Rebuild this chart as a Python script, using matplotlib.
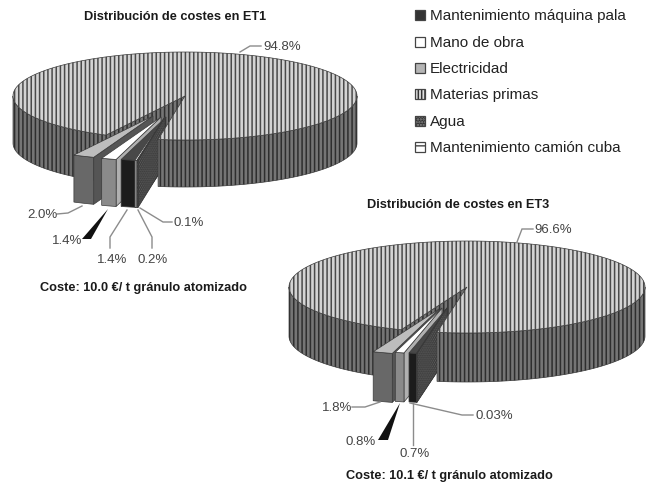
import numpy as np
import matplotlib
matplotlib.use("Agg")
import matplotlib.pyplot as plt
from matplotlib.patches import Polygon, Rectangle

plt.rcParams['font.family'] = ['Liberation Sans', 'DejaVu Sans']
plt.rcParams['hatch.linewidth'] = 1.1

# ---- data ----
categories = ['Mantenimiento máquina pala', 'Mano de obra', 'Electricidad',
              'Materias primas', 'Agua', 'Mantenimiento camión cuba']
et1_values = [1.4, 1.4, 2.0, 94.8, 0.1, 0.2]
et3_values = [0.7, 0.8, 1.8, 96.6, 0.03, 0.0]
et1_title = 'Distribución de costes en ET1'
et3_title = 'Distribución de costes en ET3'
et1_cost = 'Coste: 10.0 €/ t gránulo atomizado'
et3_cost = 'Coste: 10.1 €/ t gránulo atomizado'

# ---- styles (top, outer face, radial wall, hatch, hatch colour) ----
STY = {
    0: dict(top='#484848', side='#1c1c1c', wall='#303030'),
    1: dict(top='#ffffff', side='#8a8a8a', wall='#b0b0b0'),
    2: dict(top='#bdbdbd', side='#686868', wall='#555555'),
    4: dict(top='#333333', side='#222222', wall='#262626', hatch='.' * 8, hc='#6a6a6a'),
    5: dict(top='#e0e0e0', side='#999999', wall='#999999'),
}
BIG_TOP, BIG_SIDE, BIG_LINE_T, BIG_LINE_S = '#d4d4d4', '#757575', '#4a4a4a', '#2e2e2e'
EDGE = '#3a3a3a'

fig = plt.figure(figsize=(6.54, 4.83), dpi=100, facecolor='white')
ax = fig.add_axes([0, 0, 1, 1])
ax.set_xlim(0, 654)
ax.set_ylim(483, 0)
ax.axis('off')


def arc(cx, cy, rx, ry, a, b, n=120):
    t = np.radians(np.linspace(a, b, n))
    return np.column_stack([cx + rx * np.cos(t), cy + ry * np.sin(t)])


def face(pts, fc, hatch=None, hc=None, ec=EDGE, lw=0.5, z=1):
    ax.add_patch(Polygon(pts, closed=True, facecolor=fc, edgecolor='none', lw=0, zorder=z))
    if hatch:
        ax.add_patch(Polygon(pts, closed=True, facecolor='none', edgecolor=hc,
                             hatch=hatch, lw=0, zorder=z))
    if ec:
        ax.add_patch(Polygon(pts, closed=True, facecolor='none', edgecolor=ec, lw=lw, zorder=z))


def side_face(cx, cy, rx, ry, d, a, b, **kw):
    top = arc(cx, cy, rx, ry, a, b)
    bot = top[::-1] + [0, d]
    face(np.vstack([top, bot]), **kw)


def pie3d(values, cx, cy, rx, ry, d, t0, offsets):
    total = sum(values)
    sweep = [v / total * 360 for v in values]
    # angular order on the ellipse: Agua, camión, máquina, mano de obra, electricidad, materias
    order = [4, 5, 0, 1, 2]
    spans = {}
    t = t0
    for i in order:
        spans[i] = (t, t + sweep[i])
        t += sweep[i]
    big_a, big_b = t, t0 + 360
    kw_s = dict(fc=BIG_SIDE, hatch='||||', hc=BIG_LINE_S)

    # big slice: radial wall and left side, behind the exploded slices
    p = arc(cx, cy, rx, ry, big_a, big_a, 2)[0]
    face([(cx, cy), tuple(p), (p[0], p[1] + d), (cx, cy + d)], **kw_s, z=1)
    side_face(cx, cy, rx, ry, d, big_a, 180, **kw_s, z=2)

    # exploded slices, left to right
    z = 3
    for i in order[::-1]:
        if values[i] <= 0:
            continue
        a, b = spans[i]
        ox, oy = offsets[i]
        s = STY[i]
        c = (cx + ox, cy + oy)
        pa = arc(c[0], c[1], rx, ry, a, a, 2)[0]
        face([c, tuple(pa), (pa[0], pa[1] + d), (c[0], c[1] + d)], s['wall'],
             s.get('hatch'), s.get('hc'), z=z)
        side_face(c[0], c[1], rx, ry, d, a, b, fc=s['side'], hatch=s.get('hatch'),
                  hc=s.get('hc'), z=z + 0.1)
        face(np.vstack([[c], arc(c[0], c[1], rx, ry, a, b, 30)]), s['top'],
             s.get('hatch'), s.get('hc'), z=z + 0.2)
        z += 1

    # big slice: right side and top in front of the wedge tips
    side_face(cx, cy, rx, ry, d, 0, big_b - 360, **kw_s, z=20)
    face(np.vstack([[(cx, cy)], arc(cx, cy, rx, ry, big_a, big_b, 400)]),
         BIG_TOP, '||||', BIG_LINE_T, z=21)


def leader(pts):
    xs, ys = zip(*pts)
    ax.plot(xs, ys, color='#8c8c8c', lw=1.0, zorder=30, solid_joinstyle='miter')


def black_leader(tip, b1, b2):
    ax.add_patch(Polygon([tip, b1, b2], closed=True, fc='#111111', ec='none', zorder=30))


def lab(x, y, s, ha='left'):
    ax.text(x, y + 1, s, fontsize=9.5, color='#444444', ha=ha, va='center', zorder=31)


def head(x, y, s, size=9.2):
    ax.text(x, y + 1.5, s, fontsize=size, fontweight='bold', color='#1a1a1a',
            ha='center', va='center', zorder=31)


# ---- ET1 ----
pie3d(et1_values, 185, 96, 172, 44, 47, 99,
      {0: (-19, 21), 1: (-24, 21), 2: (-32, 20), 4: (-20, 21), 5: (-20, 21)})
head(175, 16, et1_title)
head(143, 287, et1_cost)
leader([(240, 52), (250, 46), (261, 46)])
lab(263, 46, '94.8%')
leader([(57, 214), (68, 213), (82, 206)])
lab(27, 214, '2.0%')
black_leader((108, 209), (82, 239), (91, 239))
lab(52, 240, '1.4%')
leader([(127, 210), (110, 237), (110, 248)])
lab(97, 259, '1.4%')
leader([(138, 210), (152, 237), (152, 248)])
lab(137, 259, '0.2%')
leader([(140, 208), (163, 222), (172, 222)])
lab(173, 222, '0.1%')

# ---- ET3 ----
pie3d(et3_values, 467, 287, 178, 46, 49, 99.7,
      {0: (-20, 21), 1: (-25, 21), 2: (-28, 22), 4: (-20, 21), 5: (-20, 21)})
head(458, 204, et3_title)
head(449, 474, et3_cost)
leader([(517, 242), (522, 229), (533, 229)])
lab(534, 229, '96.6%')
leader([(352, 407), (365, 407), (380, 402)])
lab(322, 407, '1.8%')
black_leader((400, 403), (378, 440), (388, 440))
lab(346, 441, '0.8%')
leader([(413, 403), (413, 445)])
lab(399, 453, '0.7%')
leader([(410, 403), (462, 415), (473, 415)])
lab(475, 415, '0.03%')

# ---- legend ----
leg_y = [15, 42, 68, 94, 121, 147]
leg_sty = [
    dict(fc='#333333'),
    dict(fc='#ffffff'),
    dict(fc='#b5b5b5'),
    dict(fc='#e0e0e0', hatch='|||||', hc='#333333'),
    dict(fc='#333333', hatch='.' * 6, hc='#8a8a8a'),
    dict(fc='#ffffff', hatch='--', hc='#555555'),
]
for name, y, s in zip(categories, leg_y, leg_sty):
    ax.add_patch(Rectangle((415, y - 5), 10, 10, facecolor=s['fc'], edgecolor='none', zorder=5))
    if 'hatch' in s:
        ax.add_patch(Rectangle((415, y - 5), 10, 10, facecolor='none', edgecolor=s['hc'],
                               hatch=s['hatch'], lw=0, zorder=6))
    ax.add_patch(Rectangle((415, y - 5), 10, 10, facecolor='none', edgecolor='#444444',
                           lw=0.9, zorder=7))
    ax.text(429.5, y + 1, name, fontsize=11, color='#222222', ha='left', va='center')

fig.savefig('out.png', dpi=100, facecolor='white')
